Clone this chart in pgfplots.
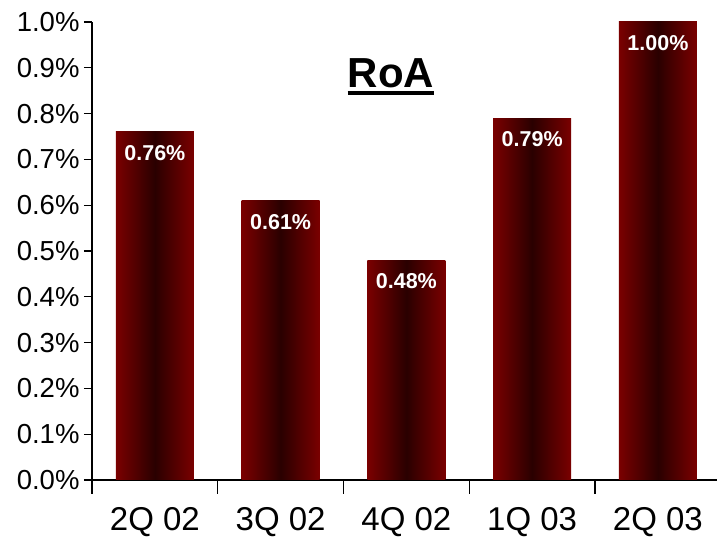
\documentclass[border=0pt]{standalone}
\usepackage{pgfplots}
\pgfplotsset{compat=1.18}
\usepackage{fontspec}
\setmainfont{Liberation Sans}
\definecolor{barred}{RGB}{122,0,0}
\definecolor{bardark}{RGB}{42,0,0}
\begin{document}
\begin{tikzpicture}
\begin{axis}[
 at={(0pt,0pt)}, anchor=south west,
 scale only axis, width=625pt, height=458pt,
 xmin=0, xmax=4.97, ymin=0, ymax=1.0,
 axis x line*=bottom, axis y line*=left,
 axis line style={line width=1.3pt, black},
 xtick={0.5,1.5,2.5,3.5,4.5},
 xticklabels={2Q 02,3Q 02,4Q 02,1Q 03,2Q 03},
 minor xtick={0,1,2,3,4},
 ytick={0,0.1,0.2,0.3,0.4,0.5,0.6,0.7,0.8,0.9,1.0},
 tick align=outside,
 major tick length=8pt, minor tick length=14pt,
 tick style={line width=1.3pt, black},
 major x tick style={draw=none},
 /pgf/number format/assume math mode=true,
 yticklabel={\pgfmathprintnumber[fixed,fixed zerofill,precision=1]{\tick}\%},
 yticklabel style={font=\fontsize{27.5}{32}\selectfont, xshift=-1pt},
 xticklabel style={font=\fontsize{33}{38}\selectfont, yshift=-16pt},
 no markers,
 nodes near coords={\pgfmathprintnumber[fixed,fixed zerofill,precision=2]{\pgfplotspointmeta}\%},
 nodes near coords style={white, font=\bfseries\fontsize{21.5}{26}\selectfont, anchor=center, yshift=-21pt},
 every axis plot/.append style={ybar, bar width=0.62, bar shift=0pt, draw=none, mark=none, left color=barred, right color=barred, middle color=bardark},
 clip=false,
]
\addplot coordinates {(0.5,0.76)};
\addplot coordinates {(1.5,0.61)};
\addplot coordinates {(2.5,0.48)};
\addplot coordinates {(3.5,0.79)};
\addplot coordinates {(4.5,1.00)};
\node[font=\bfseries\fontsize{42}{48}\selectfont, inner sep=0pt, anchor=base] (t) at (axis cs:2.378,0.858) {RoA};
\draw[line width=3.5pt] ([yshift=-6pt]t.base west) -- ([yshift=-6pt]t.base east);
\end{axis}
\pgfresetboundingbox
\useasboundingbox (-92pt,-60pt) rectangle (625pt,480pt);
\end{tikzpicture}
\end{document}
